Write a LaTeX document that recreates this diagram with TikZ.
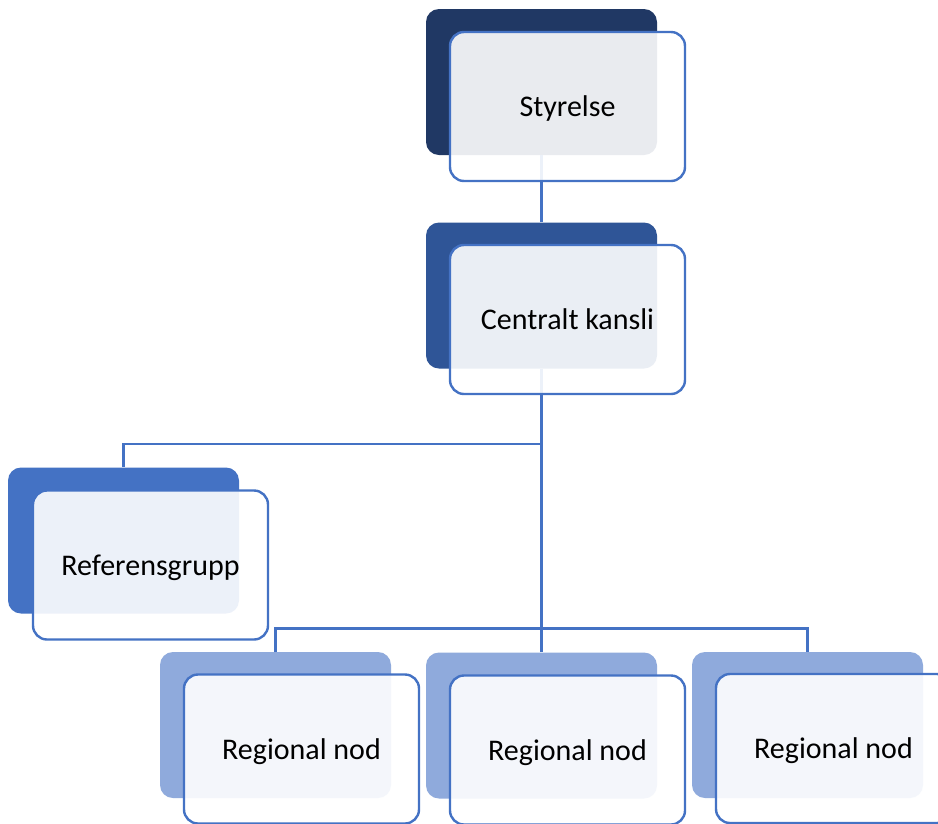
\documentclass[tikz,border=0pt]{standalone}
\usepackage{fontspec}
\setmainfont{Carlito}
\usetikzlibrary{calc}
\definecolor{navy}{HTML}{203864}
\definecolor{midblue}{HTML}{2F5597}
\definecolor{accent}{HTML}{4472C4}
\definecolor{paleblue}{HTML}{8FAADC}
\tikzset{
  back/.style={rounded corners=13pt, minimum width=231pt, minimum height=146pt, inner sep=0pt},
  front/.style={draw=accent, line width=2.4pt, fill=white, fill opacity=0.9, text opacity=1,
    rounded corners=14pt, minimum width=235pt, minimum height=149pt, inner sep=0pt,
    text depth=0pt, font=\fontsize{30}{36}\selectfont},
  link/.style={draw=accent, line width=2.4pt}
}
\begin{document}
\begin{tikzpicture}[x=1pt,y=-1pt]
\fill[white] (0,0) rectangle (938,823);
\useasboundingbox (0,0) rectangle (938,823);

% back shapes
\node[back,fill=navy] (sty-b) at (541.5,82) {};
\node[back,fill=midblue] (kan-b) at (541.5,295.5) {};
\node[back,fill=accent] (ref-b) at (123.5,540.5) {};
\node[back,fill=paleblue] (r1-b) at (275.5,725) {};
\node[back,fill=paleblue] (r2-b) at (541.5,725.5) {};
\node[back,fill=paleblue] (r3-b) at (807.5,725) {};

% connectors
\draw[link] (sty-b.south) -- (kan-b.north);
\path (kan-b.south) ++(0,75.5) coordinate (fork1);
\path (r2-b.north) ++(0,-24) coordinate (fork2);
\draw[link] (kan-b.south) -- (fork1) -| (ref-b.north);
\draw[link] (fork1) -- (r2-b.north);
\draw[link] (r1-b.north) |- (fork2) -| (r3-b.north);

% front boxes with text
\node[front] (sty) at ($(sty-b)+(26,24.5)$) {Styrelse};
\node[front] (kan) at ($(kan-b)+(26,24)$) {Centralt kansli};
\node[front] (ref) at ($(ref-b)+(27,24.5)$) {Referensgrupp};
\node[front] (r1) at ($(r1-b)+(26,24)$) {Regional nod};
\node[front] (r2) at ($(r2-b)+(26,24.5)$) {Regional nod};
\node[front] (r3) at ($(r3-b)+(26,23.5)$) {Regional nod};

\end{tikzpicture}
\end{document}
